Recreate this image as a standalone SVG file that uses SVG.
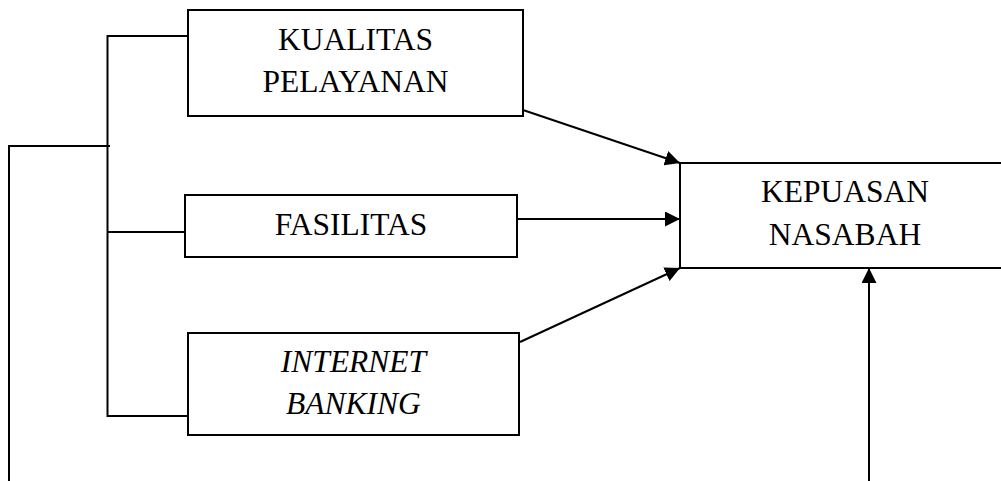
<svg xmlns="http://www.w3.org/2000/svg" width="1001" height="481" viewBox="0 0 1001 481">
<style>
.box{fill:#fff;stroke:#000;stroke-width:2}
.ln{fill:none;stroke:#000;stroke-width:2}
text{font-family:"Liberation Serif","Times New Roman",serif;font-size:31.5px;fill:#000;text-anchor:middle}
.it{font-style:italic}
</style>
<defs>
<marker id="ah" viewBox="0 0 10 10" refX="10" refY="5" markerWidth="15" markerHeight="15" markerUnits="userSpaceOnUse" orient="auto">
<path d="M0,0 L10,5 L0,10 z" fill="#000"/>
</marker>
</defs>
<g id="connectors">
<path class="ln" d="M188,36 H107.5 V416 H188"/>
<path class="ln" d="M107.5,232 H185"/>
<path class="ln" d="M9,481 V146 H110"/>
<line class="ln" x1="523" y1="110" x2="680" y2="163" marker-end="url(#ah)"/>
<line class="ln" x1="517" y1="219" x2="680" y2="219" marker-end="url(#ah)"/>
<line class="ln" x1="520" y1="342" x2="680" y2="268" marker-end="url(#ah)"/>
<line class="ln" x1="869" y1="481" x2="869" y2="268" marker-end="url(#ah)"/>
</g>
<g id="kualitas">
<rect class="box" x="188" y="10" width="335" height="106"/>
<text x="355.5" y="50">KUALITAS</text>
<text x="355.5" y="92">PELAYANAN</text>
</g>
<g id="fasilitas">
<rect class="box" x="185" y="195" width="332" height="62"/>
<text x="351" y="235">FASILITAS</text>
</g>
<g id="internet">
<rect class="box" x="188" y="333" width="331" height="102"/>
<text class="it" x="353.5" y="372">INTERNET</text>
<text class="it" x="353.5" y="414">BANKING</text>
</g>
<g id="kepuasan">
<rect class="box" x="680" y="163" width="330" height="105"/>
<text x="845" y="202">KEPUASAN</text>
<text x="845" y="245">NASABAH</text>
</g>
</svg>
